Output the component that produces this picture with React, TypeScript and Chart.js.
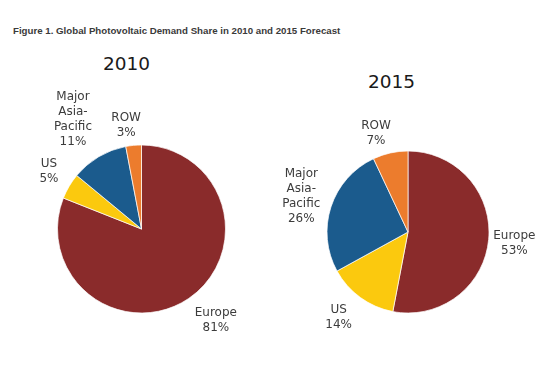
import React, { useEffect, useRef } from 'react';
import { Chart, registerables } from 'chart.js';

Chart.register(...registerables);

const figureTitle = 'Figure 1. Global Photovoltaic Demand Share in 2010 and 2015 Forecast';
const categories = ['Europe', 'US', 'Major Asia-Pacific', 'ROW'];
const years = ['2010', '2015'];
const share2010 = [81, 5, 11, 3];
const share2015 = [53, 14, 26, 7];
const sliceColors = ['#8a2b2b', '#fbc90e', '#1b5b8d', '#ec7c2d'];

// label placement per slice: [radius factor, angle tweak in degrees]
const placement2010: [number, number][] = [[1.40, -5], [1.30, 1.5], [1.54, -1.4], [1.25, -3]];
const placement2015: [number, number][] = [[1.32, 0.5], [1.36, 3], [1.39, 0.6], [1.28, -5.4]];

const labelPlugin = {
  id: 'sliceLabels',
  afterDatasetsDraw(chart: any, _args: any, opts: any) {
    const ctx = chart.ctx;
    const meta = chart.getDatasetMeta(0);
    const values: number[] = chart.data.datasets[0].data;
    ctx.save();
    ctx.font = '12px "DejaVu Sans"';
    ctx.fillStyle = '#3c3c3c';
    ctx.textAlign = 'center';
    ctx.textBaseline = 'middle';
    meta.data.forEach((arc: any, i: number) => {
      const p = arc.getProps(['x', 'y', 'startAngle', 'endAngle', 'outerRadius'], true);
      const [f, dAng] = opts.placement[i];
      const a = (p.startAngle + p.endAngle) / 2 + (dAng * Math.PI) / 180;
      const cx = p.x + Math.cos(a) * p.outerRadius * f;
      const cy = p.y + Math.sin(a) * p.outerRadius * f;
      const name = String(chart.data.labels[i]);
      const lines = [...name.split(/ |(?<=-)/), values[i] + '%'];
      lines.forEach((ln: string, k: number) => {
        ctx.fillText(ln, cx, cy + (k - (lines.length - 1) / 2) * 15);
      });
    });
    ctx.restore();
  },
};

function Pie(props: {
  values: number[];
  placement: [number, number][];
  left: number;
  top: number;
  width: number;
  height: number;
  radius: number;
}) {
  const ref = useRef<HTMLCanvasElement>(null);
  useEffect(() => {
    if (!ref.current) return;
    const chart = new Chart(ref.current, {
      type: 'pie',
      data: {
        labels: categories,
        datasets: [
          {
            data: props.values,
            backgroundColor: sliceColors,
            borderColor: 'rgba(255,255,255,0.7)',
            borderWidth: 1,
            hoverOffset: 0,
          },
        ],
      },
      options: {
        responsive: false,
        maintainAspectRatio: false,
        animation: false,
        events: [],
        radius: props.radius,
        layout: { padding: 0 },
        plugins: {
          legend: { display: false },
          tooltip: { enabled: false },
          title: { display: false },
          sliceLabels: { placement: props.placement },
        } as any,
      },
      plugins: [labelPlugin],
    });
    return () => chart.destroy();
  }, []);
  return (
    <canvas
      ref={ref}
      width={props.width}
      height={props.height}
      style={{
        position: 'absolute',
        left: props.left,
        top: props.top,
        width: props.width,
        height: props.height,
      }}
    />
  );
}

function YearLabel(props: { text: string; cx: number; cy: number }) {
  return (
    <div
      style={{
        position: 'absolute',
        left: props.cx - 60,
        top: props.cy - 12,
        width: 120,
        height: 24,
        lineHeight: '24px',
        textAlign: 'center',
        font: '18.5px "DejaVu Sans"',
        color: '#1a1a1a',
      }}
    >
      {props.text}
    </div>
  );
}

export default function App() {
  return (
    <div
      style={{
        position: 'fixed',
        left: 0,
        top: 0,
        width: 558,
        height: 365,
        background: '#ffffff',
        overflow: 'hidden',
      }}
    >
      <div
        style={{
          position: 'absolute',
          left: 13,
          top: 25,
          whiteSpace: 'nowrap',
          font: 'bold 9.7px "Liberation Sans", Arial, sans-serif',
          lineHeight: '12px',
          color: '#3a3a3a',
        }}
      >
        {figureTitle}
      </div>
      <YearLabel text={years[0]} cx={126.5} cy={65} />
      <YearLabel text={years[1]} cx={391.5} cy={83} />
      <Pie values={share2010} placement={placement2010} left={0} top={89} width={283} height={280} radius={84} />
      <Pie values={share2015} placement={placement2015} left={278} top={112} width={260} height={240} radius={81} />
    </div>
  );
}
